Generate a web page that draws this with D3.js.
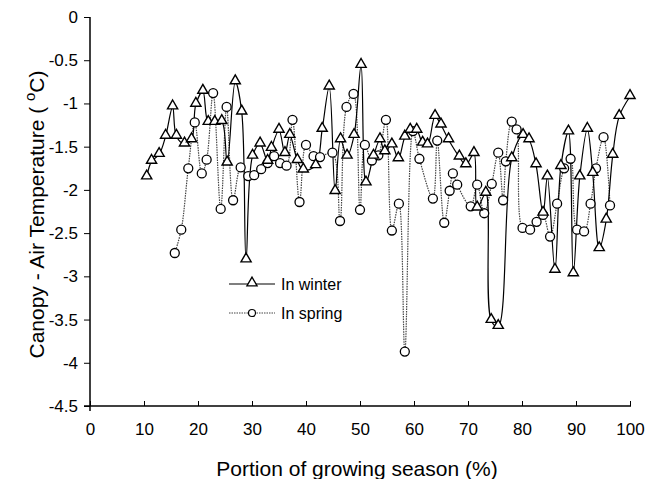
<!DOCTYPE html>
<html>
<head>
<meta charset="utf-8">
<script src="https://cdn.jsdelivr.net/npm/d3@7"></script>
<style>
  body { margin: 0; background: #fff; }
  text { font-family: Arial, "Liberation Sans", sans-serif; fill: #000; }
</style>
</head>
<body>
<div id="chart"></div>
<script>
// portion of growing season (%) and canopy - air temperature (°C)
let winterX = [10.5, 11.4, 12.8, 14.0, 15.3, 16.0, 17.5, 18.8, 19.6, 20.9, 21.9, 23.1, 24.4, 25.4, 26.9, 28.1, 28.9, 30.1,
  31.5, 32.9, 33.6, 35.0, 36.1, 37.0, 38.4, 39.5, 41.8, 43.0, 44.3, 45.4, 46.4, 47.6, 48.9, 50.2, 51.1, 52.5,
  53.7, 54.6, 55.9, 57.1, 58.3, 59.3, 60.5, 61.6, 62.5, 63.9, 65.0, 66.4, 68.4, 69.6, 71.1, 71.7, 73.3, 74.3,
  75.6, 78.1, 80.2, 81.3, 82.6, 83.9, 84.7, 86.1, 87.2, 88.6, 89.5, 90.7, 92.1, 93.1, 94.3, 95.6, 96.8, 98.0, 100.0];
let winterY = [-1.85, -1.67, -1.59, -1.38, -1.04, -1.38, -1.47, -1.42, -1.01, -0.86, -1.22, -1.22, -1.21, -1.69, -0.75, -1.10, -2.81, -1.61,
  -1.47, -1.67, -1.52, -1.31, -1.58, -1.37, -1.66, -1.77, -1.72, -1.30, -0.81, -2.02, -1.42, -1.61, -1.37, -0.56, -1.92, -1.61,
  -1.42, -1.56, -1.48, -1.64, -1.39, -1.31, -1.31, -1.46, -1.48, -1.15, -1.25, -1.42, -1.62, -1.71, -1.58, -2.21, -2.04, -3.51,
  -3.58, -1.64, -1.37, -1.42, -1.71, -2.27, -1.85, -2.93, -1.73, -1.33, -2.97, -1.85, -1.30, -1.81, -2.68, -2.35, -1.60, -1.15, -0.92];

let springX = [15.7, 16.9, 18.2, 19.4, 20.7, 21.6, 22.8, 24.2, 25.3, 26.5, 27.9, 29.3, 30.4, 31.7, 32.9, 34.1, 35.2, 36.4,
  37.5, 38.8, 40.0, 41.4, 42.6, 44.9, 46.3, 47.5, 48.8, 50.0, 50.9, 52.2, 53.4, 54.8, 55.9, 57.2, 58.3, 59.8,
  61.0, 63.5, 64.3, 65.6, 66.6, 67.2, 68.0, 70.5, 71.7, 73.0, 74.4, 75.6, 76.5, 77.0, 78.1, 79.0, 80.1, 81.5,
  82.7, 83.9, 85.2, 86.5, 87.8, 89.0, 90.2, 91.5, 92.7, 93.7, 95.1, 96.3];
let springY = [-2.73, -2.46, -1.75, -1.22, -1.81, -1.65, -0.88, -2.22, -1.04, -2.12, -1.74, -1.84, -1.83, -1.76, -1.69, -1.61, -1.69, -1.72,
  -1.19, -2.14, -1.48, -1.61, -1.62, -1.57, -2.36, -1.04, -0.89, -2.23, -1.48, -1.66, -1.60, -1.19, -2.47, -2.16, -3.87, -1.32,
  -1.64, -2.10, -1.43, -2.38, -2.01, -1.81, -1.94, -2.19, -1.94, -2.27, -1.93, -1.57, -2.12, -1.67, -1.21, -1.30, -2.44, -2.46,
  -2.37, -2.29, -2.54, -2.16, -1.75, -1.64, -2.46, -2.48, -2.16, -1.75, -1.39, -2.18];

let xTicks = [0, 10, 20, 30, 40, 50, 60, 70, 80, 90, 100];
let yTicks = [0, -0.5, -1, -1.5, -2, -2.5, -3, -3.5, -4, -4.5];

let winter = winterX.map((d, i) => ({x: d, y: winterY[i]}));
let spring = springX.map((d, i) => ({x: d, y: springY[i]}));

let margin = {top: 17, right: 30, bottom: 73, left: 90},
    width = 660 - margin.left - margin.right,
    height = 479 - margin.top - margin.bottom;

let svg = d3.select("#chart")
    .append("svg")
    .attr("width", 660)
    .attr("height", 479)
    .append("g")
    .attr("transform", "translate(" + margin.left + "," + margin.top + ")");

let x = d3.scaleLinear().domain([0, 100]).range([0, width]);
let y = d3.scaleLinear().domain([-4.5, 0]).range([height, 0]);

// axes
let xAxis = svg.append("g")
    .attr("transform", "translate(0," + height + ")")
    .call(d3.axisBottom(x).tickValues(xTicks).tickSize(-5).tickSizeOuter(0).tickPadding(17));
xAxis.select(".domain").remove();
xAxis.selectAll("text").style("font-size", "17px");

let yAxis = svg.append("g")
    .call(d3.axisLeft(y).tickValues(yTicks).tickSize(6).tickSizeOuter(0).tickPadding(6)
      .tickFormat(d => String(d)));
yAxis.select(".domain").remove();
yAxis.selectAll("text").style("font-size", "17px");

svg.append("line").attr("x1", -6).attr("x2", width + 1).attr("y1", height).attr("y2", height)
    .attr("stroke", "#000").attr("stroke-width", 1.5);
svg.append("line").attr("x1", 0).attr("x2", 0).attr("y1", 0).attr("y2", height + 5)
    .attr("stroke", "#000").attr("stroke-width", 1.5);

// axis titles
svg.append("text")
    .attr("x", width / 2 - 3)
    .attr("y", height + 70)
    .attr("text-anchor", "middle")
    .style("font-size", "21px")
    .text("Portion of growing season (%)");

let yt = svg.append("text")
    .attr("transform", "translate(" + (-margin.left + 44) + "," + (height / 2 + 3) + ") rotate(-90)")
    .attr("text-anchor", "middle")
    .style("font-size", "21px");
yt.append("tspan").text("Canopy - Air Temperature ( ");
yt.append("tspan").attr("dy", -9).style("font-size", "15px").text("o");
yt.append("tspan").attr("dy", 9).text("C)");

let line = d3.line()
    .x(d => x(d.x))
    .y(d => y(d.y))
    .curve(d3.curveCatmullRom.alpha(0.5));

// spring series
svg.append("path")
    .datum(spring)
    .attr("fill", "none")
    .attr("stroke", "#444")
    .attr("stroke-width", 1.2)
    .attr("stroke-dasharray", "1.5,1")
    .attr("d", line);

// winter series
svg.append("path")
    .datum(winter)
    .attr("fill", "none")
    .attr("stroke", "#000")
    .attr("stroke-width", 1.2)
    .attr("d", line);

let tri = d3.symbol().type(d3.symbolTriangle).size(45);

svg.append("g")
    .selectAll("circle")
    .data(spring)
    .enter()
    .append("circle")
    .attr("cx", d => x(d.x))
    .attr("cy", d => y(d.y))
    .attr("r", 4.5)
    .attr("fill", "#fff")
    .attr("stroke", "#000")
    .attr("stroke-width", 1.3);

svg.append("g")
    .selectAll("path")
    .data(winter)
    .enter()
    .append("path")
    .attr("d", tri)
    .attr("transform", d => "translate(" + x(d.x) + "," + (y(d.y) - 1) + ")")
    .attr("fill", "#fff")
    .attr("stroke", "#000")
    .attr("stroke-width", 1.4);

// legend
let lg = svg.append("g").attr("transform", "translate(139,267)");
lg.append("line").attr("x1", 0).attr("x2", 46).attr("y1", 0).attr("y2", 0)
    .attr("stroke", "#000").attr("stroke-width", 1.2);
lg.append("path").attr("d", tri).attr("transform", "translate(23,-1)")
    .attr("fill", "#fff").attr("stroke", "#000").attr("stroke-width", 1.3);
lg.append("text").attr("x", 52).attr("y", 6).style("font-size", "16px").text("In winter");
lg.append("line").attr("x1", 0).attr("x2", 46).attr("y1", 29).attr("y2", 29)
    .attr("stroke", "#444").attr("stroke-width", 1.2).attr("stroke-dasharray", "1.5,1");
lg.append("circle").attr("cx", 23).attr("cy", 29).attr("r", 3.5)
    .attr("fill", "#fff").attr("stroke", "#000").attr("stroke-width", 1.2);
lg.append("text").attr("x", 52).attr("y", 35).style("font-size", "16px").text("In spring");
</script>
</body>
</html>
